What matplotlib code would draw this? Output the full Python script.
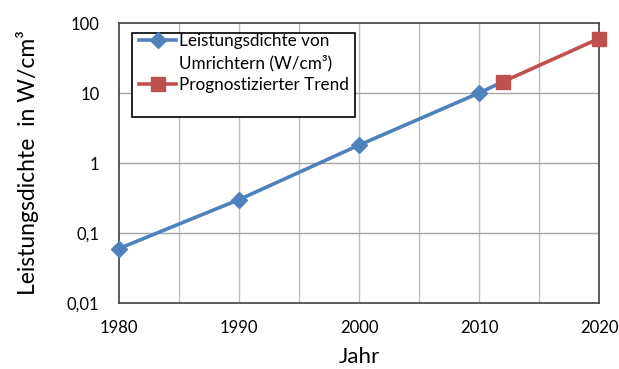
import matplotlib
matplotlib.use("Agg")
import matplotlib.pyplot as plt
from matplotlib.lines import Line2D
from matplotlib.patches import Rectangle

# Power density of converters (historic) and projected trend
years_hist = [1980, 1990, 2000, 2010, 2012]
dens_hist = [0.06, 0.3, 1.8, 10, 14.5]
years_trend = [2012, 2020]
dens_trend = [14.5, 60]

x_ticks = [1980, 1990, 2000, 2010, 2020]
y_ticks = [0.01, 0.1, 1, 10, 100]
y_tick_labels = ["0,01", "0,1", "1", "10", "100"]

label_hist_lines = ["Leistungsdichte von", "Umrichtern (W/cm³)"]
label_trend = "Prognostizierter Trend"

blue = "#4F81BD"
red = "#C0504D"

plt.rcParams["font.family"] = ["Lato", "DejaVu Sans"]

fig = plt.figure(figsize=(6.19, 3.69), dpi=100)
ax = fig.add_axes([119 / 619, 1 - 303 / 369, 480 / 619, 280 / 369])

ax.set_yscale("log")
ax.set_xlim(1980, 2020)
ax.set_ylim(0.01, 100)

# gridlines every 5 years and every decade
for gx in range(1985, 2020, 5):
    ax.axvline(gx, color="#BFBFBF", lw=1.0, zorder=0)
for gy in [0.1, 1, 10]:
    ax.axhline(gy, color="#A6A6A6", lw=1.0, zorder=0)

h1, = ax.plot(years_hist, dens_hist, color=blue, lw=2.6, marker="D", ms=8.5,
              markevery=[0, 1, 2, 3], clip_on=False, zorder=3)
h2, = ax.plot(years_trend, dens_trend, color=red, lw=2.6, marker="s", ms=9.5,
              clip_on=False, zorder=4)

ax.set_xticks(x_ticks)
ax.set_xticklabels([str(v) for v in x_ticks])
ax.set_yticks(y_ticks)
ax.set_yticklabels(y_tick_labels)
ax.minorticks_off()
ax.tick_params(axis="both", length=0, labelsize=12, colors="black")
ax.tick_params(axis="x", pad=12)
ax.tick_params(axis="y", pad=14)

for s in ax.spines.values():
    s.set_color("#404040")
    s.set_linewidth(1.2)

ax.set_xlabel("Jahr", fontsize=16, labelpad=8)
ax.set_ylabel("Leistungsdichte  in W/cm³", fontsize=16.5, labelpad=20)

# legend box with an outlined frame
frame = Rectangle((131.7 / 619, 1 - 116.7 / 369), (355 - 131.7) / 619,
                  (116.7 - 32.7) / 369, transform=fig.transFigure,
                  facecolor="white", edgecolor="black", lw=1.2, zorder=5,
                  clip_on=False)
ax.add_patch(frame)
blank = Line2D([], [], color="none")
leg = ax.legend(handles=[h1, blank, h2],
                labels=[label_hist_lines[0], label_hist_lines[1], label_trend],
                loc="upper left",
                bbox_to_anchor=(137 / 619, 1 - 31 / 369), bbox_transform=fig.transFigure,
                frameon=False, fontsize=12.3, handlelength=2.2, handletextpad=0.15,
                labelspacing=0.35, borderaxespad=0, borderpad=0.1)
leg.set_zorder(6)

fig.savefig("out.png", dpi=100)
